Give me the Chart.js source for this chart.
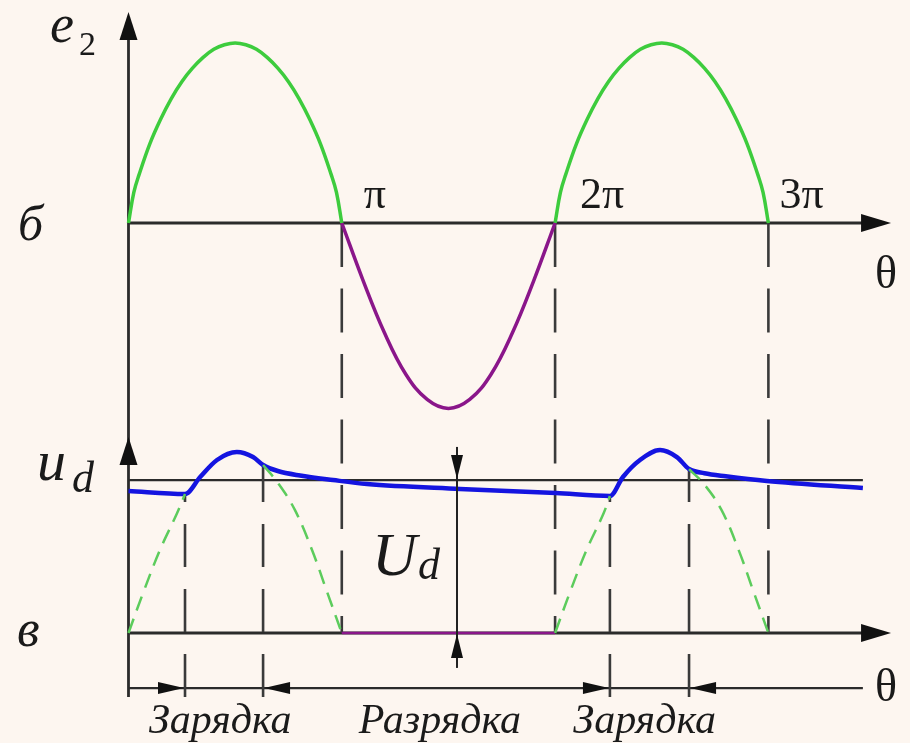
<!DOCTYPE html>
<html><head><meta charset="utf-8">
<script src="https://cdn.jsdelivr.net/npm/chart.js@4.4.1/dist/chart.umd.min.js"></script>
<style>html,body{margin:0;padding:0;background:#fdf6f0;}#wrap{width:910px;height:743px;}</style>
</head><body><div id="wrap"><canvas id="c" width="910" height="743"></canvas></div>
<script>
// ---- data (θ in units of π) ----
const e2ThetaA = [0, 0.025, 0.05, 0.1, 0.15, 0.2, 0.25, 0.3, 0.35, 0.4, 0.45, 0.5, 0.55, 0.6, 0.65, 0.7, 0.75, 0.8, 0.85, 0.9, 0.95, 0.975, 1.0];
const e2ValsA  = [0, 0.17, 0.27, 0.44, 0.575, 0.69, 0.785, 0.86, 0.92, 0.965, 0.99, 1.0, 0.99, 0.965, 0.92, 0.86, 0.785, 0.69, 0.575, 0.44, 0.27, 0.17, 0];
const e2ThetaNeg = [1, 1.1, 1.2, 1.3, 1.4, 1.5, 1.6, 1.7, 1.8, 1.9, 2.0];
const e2ValsNeg  = [0, -0.32, -0.61, -0.84, -0.98, -1.03, -0.98, -0.84, -0.61, -0.32, 0];
const e2ThetaB = [2, 2.025, 2.05, 2.1, 2.15, 2.2, 2.25, 2.3, 2.35, 2.4, 2.45, 2.5, 2.55, 2.6, 2.65, 2.7, 2.75, 2.8, 2.85, 2.9, 2.95, 2.975, 3.0];
const e2ValsB  = [0, 0.17, 0.27, 0.44, 0.575, 0.69, 0.785, 0.86, 0.92, 0.965, 0.99, 1.0, 0.99, 0.965, 0.92, 0.86, 0.785, 0.69, 0.575, 0.44, 0.27, 0.17, 0];

const udTheta = [0, 0.265, 0.336, 0.415, 0.508, 0.584, 0.631, 0.70, 0.804, 0.959, 1.118, 1.554, 2.004, 2.257, 2.318, 2.398, 2.492, 2.571, 2.628, 2.70, 2.80, 2.993, 3.443];
const udVals  = [0.785, 0.768, 0.862, 0.956, 1.0, 0.972, 0.928, 0.895, 0.870, 0.845, 0.823, 0.796, 0.773, 0.757, 0.862, 0.956, 1.011, 0.972, 0.906, 0.883, 0.866, 0.840, 0.801];

const rectTheta = [[0, 0.068, 0.148, 0.227, 0.265], [0.631, 0.7, 0.78, 0.86, 0.93, 1.0],
                   [2.0, 2.068, 2.148, 2.227, 2.257], [2.628, 2.7, 2.78, 2.86, 2.93, 3.0]];
const rectVals  = [[0, 0.22, 0.46, 0.66, 0.768], [0.928, 0.83, 0.68, 0.46, 0.23, 0],
                   [0, 0.22, 0.46, 0.66, 0.757], [0.906, 0.82, 0.68, 0.46, 0.23, 0]];
const zeroTheta = [1, 2];
const zeroVals = [0, 0];

const piTicks = [1, 2, 3];
const piLabels = ['π', '2π', '3π'];
const chargeStart = [0.265, 2.257];
const chargeEnd = [0.631, 2.628];
const chargeLevelStart = [0.768, 0.757];
const chargeLevelEnd = [0.928, 0.906];
const UdLevel = 0.845;
const UdTheta = 1.54;
const stageLabels = ['Зарядка', 'Разрядка', 'Зарядка'];
const stageCenters = [0.43, 1.46, 2.42];

// ---- helpers ----
const pts = (xs, ys) => xs.map((x, i) => ({x, y: ys[i]}));
const GREEN = '#3dcc3d', PURPLE = '#8a168a', BLUE = '#1414e0', INK = '#2b2b2b';
const SERIF = '"Liberation Serif", "DejaVu Serif", serif';

const datasets = [
  {data: pts(e2ThetaA, e2ValsA), yAxisID: 'yTop', borderColor: GREEN, borderWidth: 3.5},
  {data: pts(e2ThetaNeg, e2ValsNeg), yAxisID: 'yTop', borderColor: PURPLE, borderWidth: 3.5},
  {data: pts(e2ThetaB, e2ValsB), yAxisID: 'yTop', borderColor: GREEN, borderWidth: 3.5},
  ...rectTheta.map((t, i) => ({data: pts(t, rectVals[i]), yAxisID: 'yBot', borderColor: '#5ccc5c', borderWidth: 2.5, borderDash: [15, 9]})),
  {data: pts(zeroTheta, zeroVals), yAxisID: 'yBot', borderColor: PURPLE, borderWidth: 2.5, tension: 0},
  {data: pts(udTheta, udVals), yAxisID: 'yBot', borderColor: BLUE, borderWidth: 4.5, cubicInterpolationMode: 'monotone'}
];
datasets.forEach(d => { d.pointRadius = 0; d.fill = false; if (d.tension === undefined) d.tension = 0.4; });

function arrow(ctx, tx, ty, dir, len, half) {
  ctx.beginPath();
  ctx.moveTo(tx, ty);
  if (dir === 'up') { ctx.lineTo(tx - half, ty + len); ctx.lineTo(tx + half, ty + len); }
  if (dir === 'down') { ctx.lineTo(tx - half, ty - len); ctx.lineTo(tx + half, ty - len); }
  if (dir === 'right') { ctx.lineTo(tx - len, ty - half); ctx.lineTo(tx - len, ty + half); }
  if (dir === 'left') { ctx.lineTo(tx + len, ty - half); ctx.lineTo(tx + len, ty + half); }
  ctx.closePath();
  ctx.fill();
}
function line(ctx, x1, y1, x2, y2) { ctx.beginPath(); ctx.moveTo(x1, y1); ctx.lineTo(x2, y2); ctx.stroke(); }

const deco = {
  id: 'deco',
  beforeDraw(chart) {
    const ctx = chart.ctx;
    ctx.save(); ctx.fillStyle = '#fdf6f0'; ctx.fillRect(0, 0, chart.width, chart.height); ctx.restore();
  },
  beforeDatasetsDraw(chart) {
    const ctx = chart.ctx, s = chart.scales;
    const X = v => s.x.getPixelForValue(v), YT = v => s.yTop.getPixelForValue(v), YB = v => s.yBot.getPixelForValue(v);
    ctx.save();
    ctx.strokeStyle = INK; ctx.lineWidth = 2.8; ctx.lineCap = 'butt';
    line(ctx, X(0), YT(1.1), X(0), YB(-0.354));
    line(ctx, X(0), YT(0), X(3.5), YT(0));
    line(ctx, X(0), YB(0), X(3.5), YB(0));
    ctx.lineWidth = 2.2;
    line(ctx, X(0), YB(UdLevel), X(3.443), YB(UdLevel));
    line(ctx, X(0), YB(-0.304), X(3.443), YB(-0.304));
    ctx.lineWidth = 2.6; ctx.strokeStyle = '#3a3a3a';
    ctx.setLineDash([44, 21.5]);
    piTicks.forEach(t => line(ctx, X(t), YT(0), X(t), YB(0)));
    ctx.setLineDash([43, 22]);
    chargeStart.forEach((t, i) => line(ctx, X(t), YB(-0.354), X(t), YB(chargeLevelStart[i])));
    chargeEnd.forEach((t, i) => line(ctx, X(t), YB(-0.354), X(t), YB(chargeLevelEnd[i])));
    ctx.setLineDash([]);
    ctx.restore();
  },
  afterDatasetsDraw(chart) {
    const ctx = chart.ctx, s = chart.scales;
    const X = v => s.x.getPixelForValue(v), YT = v => s.yTop.getPixelForValue(v), YB = v => s.yBot.getPixelForValue(v);
    ctx.save();
    ctx.fillStyle = '#111'; ctx.strokeStyle = '#222';
    arrow(ctx, X(0), YT(1.172), 'up', 28, 9);
    arrow(ctx, X(3.575), YT(0), 'right', 30, 9);
    arrow(ctx, X(3.575), YB(0), 'right', 30, 9);
    arrow(ctx, X(0), YB(1.083), 'up', 28, 9);
    ctx.lineWidth = 2;
    line(ctx, X(UdTheta), YB(1.028), X(UdTheta), YB(-0.193));
    arrow(ctx, X(UdTheta), YB(UdLevel) - 1, 'down', 24, 6);
    arrow(ctx, X(UdTheta), YB(0) + 1, 'up', 24, 6);
    const yI = YB(-0.304);
    chargeStart.forEach(t => arrow(ctx, X(t) - 1, yI, 'right', 26, 6));
    chargeEnd.forEach(t => arrow(ctx, X(t) + 1, yI, 'left', 26, 6));

    ctx.fillStyle = '#1a1a1a';
    ctx.textBaseline = 'alphabetic';
    ctx.textAlign = 'left';
    ctx.font = 'italic 54px ' + SERIF; ctx.fillText('e', 50, YT(1.005));
    ctx.font = '34px ' + SERIF; ctx.fillText('2', 79, YT(0.935));
    ctx.font = 'italic 50px ' + SERIF; ctx.fillText('б', 18, YT(-0.095));
    ctx.font = '44px ' + SERIF;
    const piOff = [22, 25, 11];
    piTicks.forEach((t, i) => ctx.fillText(piLabels[i], X(t) + piOff[i], YT(0.085)));
    ctx.textAlign = 'center';
    ctx.font = '46px ' + SERIF;
    ctx.fillText('θ', 886, YT(-0.36));
    ctx.fillText('θ', 886, YB(-0.375));
    ctx.textAlign = 'left';
    ctx.font = 'italic 58px ' + SERIF; ctx.fillText('u', 37, YB(0.845));
    ctx.font = 'italic 44px ' + SERIF; ctx.fillText('d', 72, YB(0.78));
    ctx.font = 'italic 52px ' + SERIF; ctx.fillText('в', 17, YB(-0.07));
    ctx.font = 'italic 62px ' + SERIF; ctx.fillText('U', 372, YB(0.32));
    ctx.font = 'italic 44px ' + SERIF; ctx.fillText('d', 418, YB(0.3));
    ctx.textAlign = 'center';
    ctx.font = 'italic 42px ' + SERIF;
    stageLabels.forEach((lab, i) => ctx.fillText(lab, X(stageCenters[i]), 733));
    ctx.restore();
  }
};

new Chart(document.getElementById('c'), {
  type: 'line',
  data: {datasets},
  options: {
    responsive: false, animation: false, devicePixelRatio: 1, events: [],
    layout: {padding: 0},
    plugins: {legend: {display: false}, tooltip: {enabled: false}},
    scales: {
      x: {type: 'linear', display: false, min: -0.6024, max: 3.6639},
      yTop: {type: 'linear', display: false, min: -2.8889, max: 1.2389},
      yBot: {type: 'linear', display: false, min: -0.6077, max: 3.4972}
    }
  },
  plugins: [deco]
});
</script></body></html>
